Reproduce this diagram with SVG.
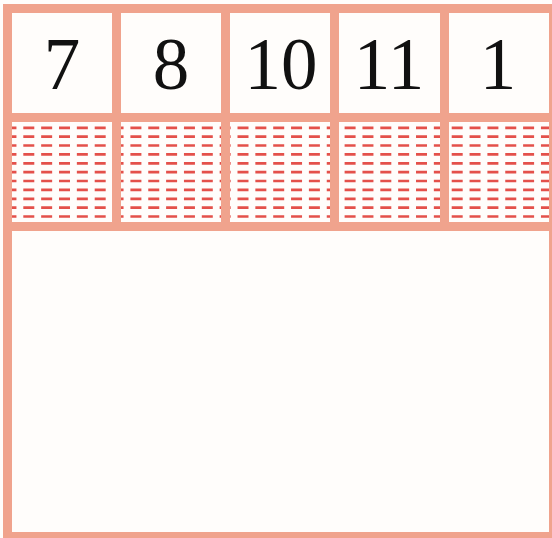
<svg xmlns="http://www.w3.org/2000/svg" width="552" height="538" viewBox="0 0 552 538">
  <style>
    .bg { fill: #FFFDFB; }
    .bar { fill: #F0A38D; }
    .dash { fill: none; stroke: #E4504A; stroke-width: 2.7; stroke-dasharray: 11 6.85; }
    .num { font-family: "Liberation Serif", "Times New Roman", Times, serif; font-size: 73px; fill: #111111; text-anchor: middle; }
  </style>
  <rect class="bg" x="0" y="0" width="552" height="538"/>

  <!-- dashed strip -->
  <g id="dashes">
    <path class="dash" d="M5.45 127.8H552 M5.45 136.7H552 M5.45 145.5H552 M5.45 154.4H552 M5.45 163.3H552 M5.45 172.2H552 M5.45 181H552 M5.45 189.9H552 M5.45 198.8H552 M5.45 207.6H552 M5.45 216.5H552"/>
  </g>

  <!-- grid bars -->
  <g id="grid">
    <rect class="bar" x="3" y="4" width="555" height="9"/>
    <rect class="bar" x="3" y="113" width="555" height="9"/>
    <rect class="bar" x="3" y="222" width="555" height="9"/>
    <rect class="bar" x="3" y="532" width="555" height="9"/>
    <rect class="bar" x="3" y="4" width="9" height="537"/>
    <rect class="bar" x="549" y="4" width="9" height="537"/>
    <rect class="bar" x="112" y="4" width="9" height="222"/>
    <rect class="bar" x="221" y="4" width="9" height="222"/>
    <rect class="bar" x="330" y="4" width="9" height="222"/>
    <rect class="bar" x="440" y="4" width="9" height="222"/>
  </g>

  <g id="cell-7"><text class="num" x="62" y="88.7">7</text></g>
  <g id="cell-8"><text class="num" x="171" y="88.7">8</text></g>
  <g id="cell-10"><text class="num" x="281" y="88.7">10</text></g>
  <g id="cell-11"><text class="num" x="389" y="88.7">11</text></g>
  <g id="cell-1"><text class="num" x="498" y="88.7">1</text></g>
</svg>
